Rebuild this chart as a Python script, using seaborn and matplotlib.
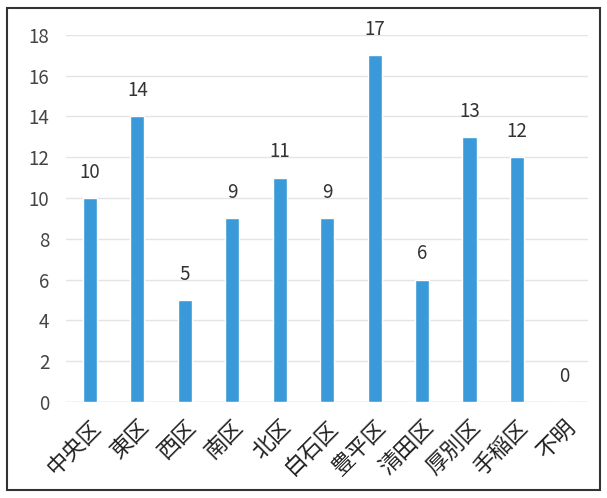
import numpy as np
import pandas as pd
import matplotlib
matplotlib.use('Agg')
import matplotlib.pyplot as plt
import seaborn as sns
from matplotlib.patches import Rectangle

# data
wards = ['中央区', '東区', '西区', '南区', '北区', '白石区', '豊平区', '清田区', '厚別区', '手稲区', '不明']
counts = [10, 14, 5, 9, 11, 9, 17, 6, 13, 12, 0]
y_ticks = [0, 2, 4, 6, 8, 10, 12, 14, 16, 18]

sns.set_theme(style='white')
plt.rcParams['font.family'] = ['Noto Sans CJK JP', 'DejaVu Sans']

df = pd.DataFrame({'ward': wards, 'count': counts})

fig = plt.figure(figsize=(6.07, 4.98), dpi=100)
ax = fig.add_axes([0.109, 0.193, 0.86, 0.737])

sns.barplot(data=df, x='ward', y='count', color='#3a9ad9', saturation=1,
            width=0.3, ax=ax)

# value labels above bars
for i, v in enumerate(counts):
    ax.text(i, v + 0.75, str(v), ha='center', va='bottom', fontsize=13.5, color='#333333')

ax.set_ylim(0, 18)
ax.set_yticks(y_ticks)
ax.set_xlim(-0.5, len(wards) - 0.5)
ax.yaxis.grid(True, color='#e4e4e4', linewidth=1)
ax.set_axisbelow(True)
for s in ax.spines.values():
    s.set_visible(False)
ax.axhline(0, color='#d9d9d9', linewidth=1, zorder=0)
ax.set_xlabel('')
ax.set_ylabel('')
ax.tick_params(axis='y', labelsize=13.5, labelcolor='#444444', pad=12, length=0)
ax.tick_params(axis='x', labelsize=16, labelcolor='#222222', length=0, pad=10)
plt.setp(ax.get_xticklabels(), rotation=45, ha='right', rotation_mode='anchor')

# outer frame of the chart
fig.patches.append(Rectangle((7 / 607, 8 / 498), 593 / 607, 1 - 16 / 498,
                             transform=fig.transFigure, fill=False,
                             edgecolor='#333333', linewidth=1.5))

fig.savefig('out.png', dpi=100)
